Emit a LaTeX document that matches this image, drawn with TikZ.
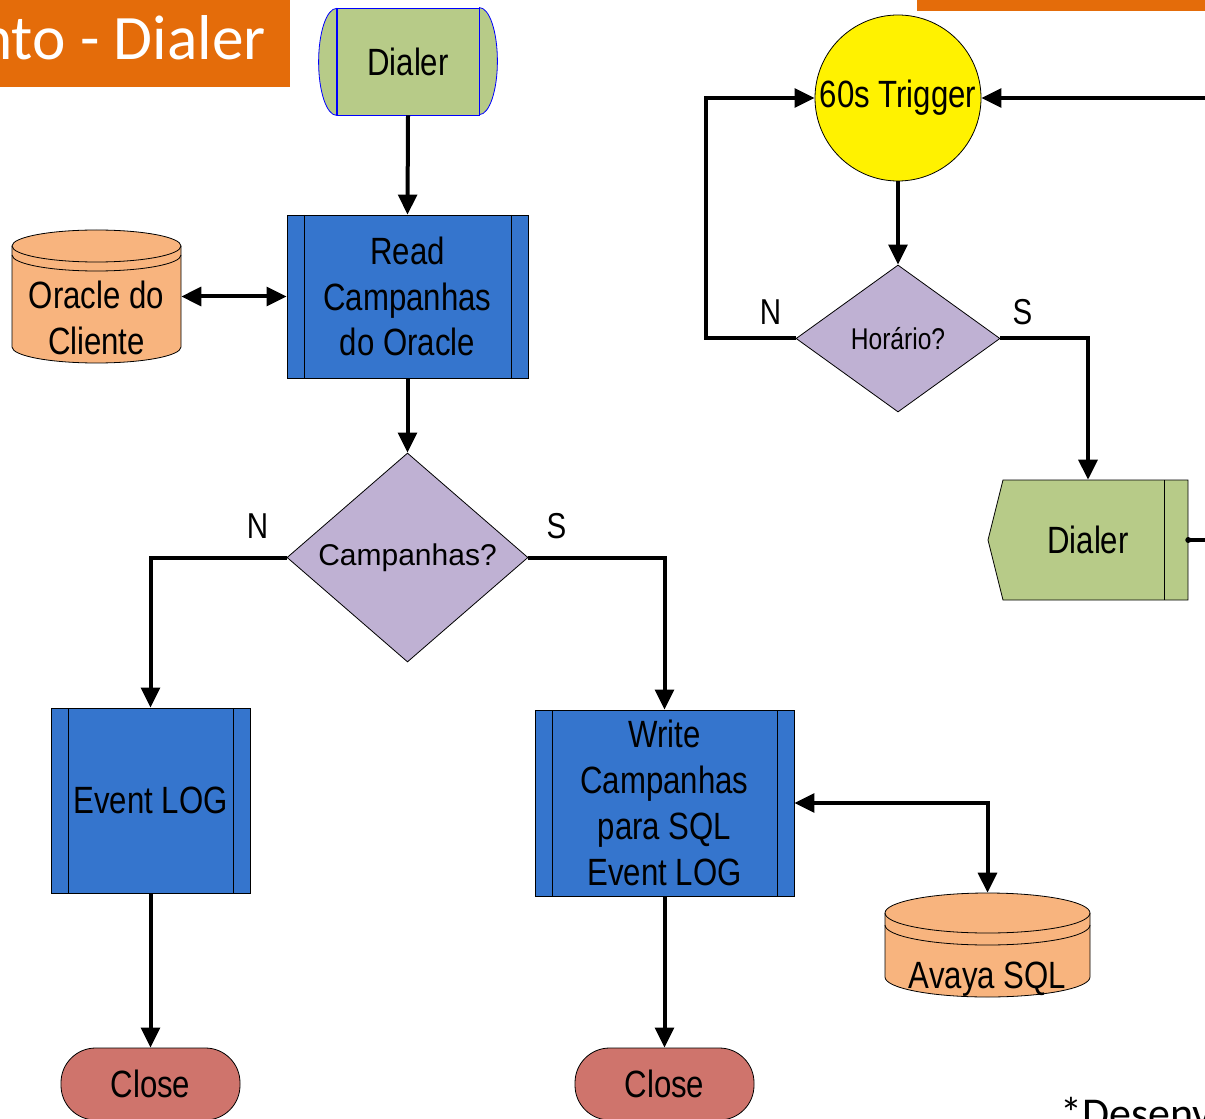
\documentclass[tikz,border=0pt]{standalone}
\usepackage{fontspec}
\setmainfont{Liberation Sans}
\newfontfamily\narrowfont{Liberation Sans}[FakeStretch=0.82]
\newfontfamily\titlefont{Carlito}
\usetikzlibrary{arrows.meta, calc, shapes.geometric}

\definecolor{titleorange}{HTML}{E46C0A}
\definecolor{dialgreen}{HTML}{B7CB88}
\definecolor{procblue}{HTML}{3575CD}
\definecolor{dbpeach}{HTML}{F8B47E}
\definecolor{decpurple}{HTML}{BFB1D3}
\definecolor{closered}{HTML}{CF746C}

\newcommand\bigtxt{\narrowfont\fontsize{28.5}{34.3}\selectfont}
\newcommand\smalltxt{\narrowfont\fontsize{22.5}{27}\selectfont}
\newcommand\lbltxt{\narrowfont\fontsize{27}{30}\selectfont}
\newcommand\decitxt{\fontsize{22.5}{27}\selectfont}

\tikzset{
  flow/.style={line width=3pt, -{Triangle[length=15pt,width=14pt]}},
  both/.style={line width=3pt, {Triangle[length=15pt,width=14pt]}-{Triangle[length=15pt,width=14pt]}},
  proc/.style={draw, fill=procblue, line width=0.6pt, font=\bigtxt, align=center, inner sep=0pt,
    path picture={
      \draw[line width=0.6pt] ([xshift=12.75pt]path picture bounding box.north west) -- ([xshift=12.75pt]path picture bounding box.south west);
      \draw[line width=0.6pt] ([xshift=-12.75pt]path picture bounding box.north east) -- ([xshift=-12.75pt]path picture bounding box.south east);
    }},
  decision/.style={diamond, draw, fill=decpurple, line width=0.6pt, inner sep=0pt},
  closebox/.style={draw, fill=closered, line width=0.6pt, rounded corners=26pt, minimum width=134.25pt, minimum height=54pt, font=\bigtxt},
  dbshape/.style={draw, fill=dbpeach, line width=0.6pt},
  lbl/.style={font=\lbltxt},
}

\begin{document}
\begin{tikzpicture}[x=0.75pt, y=-0.75pt]
\useasboundingbox (0,0) rectangle (1205,1119);
% Title bars
\fill[titleorange] (0,0) rectangle (290,87);
\node[font=\titlefont\fontsize{47.5}{48}\selectfont, text=white, anchor=base east, inner sep=0pt] (title) at (266,60) {nto - Dialer};
\fill[titleorange] (917,0) rectangle (1205,11);
% Dialer (start)
\node[draw=blue, fill=dialgreen, line width=0.6pt, minimum width=106.5pt, minimum height=80.25pt, font=\bigtxt] (dialerA) at (408,61.5) {Dialer};
\filldraw[draw=blue, fill=dialgreen, line width=0.6pt] (dialerA.north east) arc[start angle=-90, end angle=90, x radius=18, y radius=53.5] -- cycle;
\filldraw[draw=blue, fill=dialgreen, line width=0.6pt] (dialerA.south west) arc[start angle=90, end angle=270, x radius=18, y radius=53.5] -- cycle;
% Processes
\node[proc, minimum width=180.75pt, minimum height=122.25pt] (read) at (407.5,296.5) {Read\\Campanhas\\do Oracle};
\node[proc, minimum width=149.25pt, minimum height=138.75pt] (evlog) at (150.5,800.5) {Event LOG};
\node[proc, minimum width=194.25pt, minimum height=139.5pt] (wrsql) at (664.5,803) {Write\\Campanhas\\para SQL\\Event LOG};
% Oracle do Cliente
\filldraw[dbshape] (12,246) -- (12,347) arc[start angle=180, end angle=0, x radius=84.5, y radius=16] -- (181,246) arc[start angle=0, end angle=-180, x radius=84.5, y radius=16] -- cycle;
\draw[line width=0.6pt] (12,246) arc[start angle=180, end angle=0, x radius=84.5, y radius=16];
\draw[line width=0.6pt] (12,255) arc[start angle=180, end angle=0, x radius=84.5, y radius=16];
\node[minimum width=126.75pt, minimum height=99.75pt] (oracle) at (96.5,296.5) {};
\node[font=\bigtxt, align=center] (oracletxt) at (96.5,318) {Oracle do\\Cliente};
% Avaya SQL
\filldraw[dbshape] (885,913) -- (885,977) arc[start angle=180, end angle=0, x radius=102.5, y radius=20] -- (1090,913) arc[start angle=0, end angle=-180, x radius=102.5, y radius=20] -- cycle;
\draw[line width=0.6pt] (885,913) arc[start angle=180, end angle=0, x radius=102.5, y radius=20];
\draw[line width=0.6pt] (885,925) arc[start angle=180, end angle=0, x radius=102.5, y radius=20];
\node[minimum width=153.75pt, minimum height=78.75pt] (avaya) at (987.5,945.5) {};
\node[font=\bigtxt] (avayatxt) at (987.5,979) {Avaya SQL};
% Decisions
\node[decision, minimum width=180.75pt, minimum height=156.75pt, font=\decitxt] (qcamp) at (407.5,557.5) {Campanhas?};
\node[decision, minimum width=153pt, minimum height=110.25pt, font=\smalltxt] (qhor) at (898,338.5) {Horário?};
% Close
\node[closebox] (close1) at (150.5,1084) {Close};
\node[closebox] (close2) at (664.5,1084) {Close};
% Trigger
\node[circle, draw, fill=yellow, line width=0.6pt, minimum size=124.5pt, inner sep=0pt, font=\bigtxt] (trigger) at (898,98) {60s Trigger};
% Dialer (right)
\filldraw[line width=0.6pt, fill=dialgreen] (1003,480) -- (1188,480) -- (1188,600) -- (1003,600) -- (988,540) -- cycle;
\draw[line width=0.6pt] (1164,480) -- (1164,600);
\node[minimum width=150pt, minimum height=90pt, font=\bigtxt] (dialerB) at (1088,540) {Dialer};
\coordinate (inT) at (1210,98);
\coordinate (outB) at (1210,540);
% Connectors
\draw[flow] (dialerA.south) -- (read.north);
\draw[both] (oracle.east) -- (read.west);
\draw[flow] (read.south) -- (qcamp.north);
\draw[flow] (qcamp.west) -| (evlog.north);
\draw[flow] (qcamp.east) -| (wrsql.north);
\draw[flow] (evlog.south) -- (close1.north);
\draw[flow] (wrsql.south) -- (close2.north);
\draw[both] (wrsql.east) -| (avaya.north);
\draw[flow] (inT) -- (trigger.east);
\draw[flow] (trigger.south) -- (qhor.north);
\draw[flow] (qhor.west) -- ++(-90,0) |- (trigger.west);
\draw[flow] (qhor.east) -| (dialerB.north);
\draw[line width=3pt] (dialerB.east) -- (outB);
\fill (dialerB.east) circle[radius=3];
% Labels
\node[lbl] (campN) at ($(qcamp.west)+(-29,-31)$) {N};
\node[lbl] (campS) at ($(qcamp.east)+(28,-31)$) {S};
\node[lbl] (horN) at ($(qhor.west)+(-25,-26)$) {N};
\node[lbl] (horS) at ($(qhor.east)+(22,-26)$) {S};
% Note
\node[font=\titlefont\fontsize{33}{33}\selectfont, anchor=base west, inner sep=0pt] (nota) at (1060,1128) {*Desenv};
\end{tikzpicture}
\end{document}
